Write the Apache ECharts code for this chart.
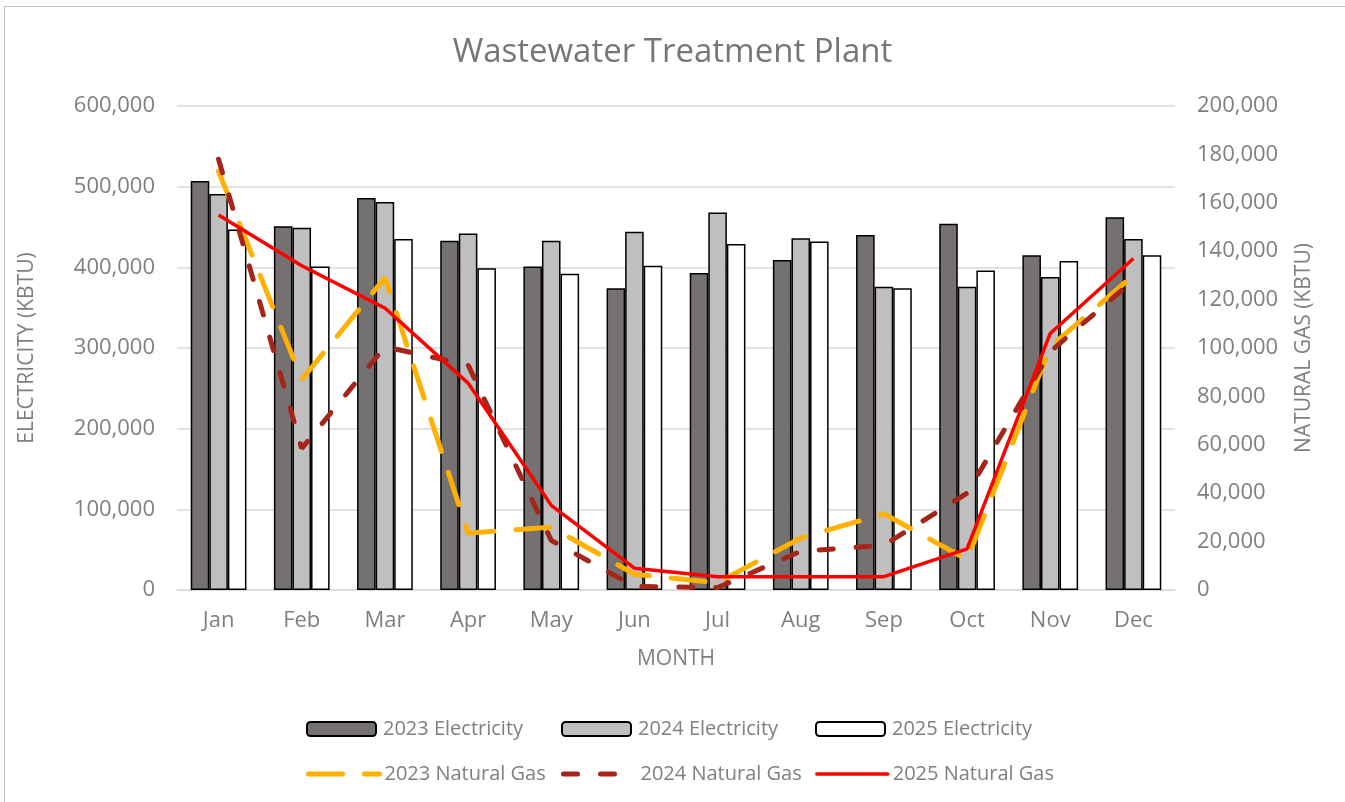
<!DOCTYPE html>
<html><head><meta charset="utf-8">
<script src="https://cdn.jsdelivr.net/npm/echarts@6/dist/echarts.min.js"></script>
<style>
html,body{margin:0;padding:0;background:#fff;}
#wrap{position:absolute;left:4px;top:6px;width:1345px;height:802px;border:1.5px solid #BFBFBF;box-sizing:border-box;}
#c{position:absolute;left:0;top:0;width:1345px;height:802px;}
</style></head>
<body>
<div id="wrap"></div>
<div id="c"></div>
<script>
const months = ['Jan','Feb','Mar','Apr','May','Jun','Jul','Aug','Sep','Oct','Nov','Dec'];
const elec2023 = [507000,451000,486000,433000,401000,374000,393000,409000,440000,454000,415000,462000];
const elec2024 = [491000,449000,481000,442000,433000,444000,468000,436000,376000,376000,388000,435000];
const elec2025 = [447000,401000,435000,399000,392000,402000,429000,432000,374000,396000,408000,415000];
const gas2023 = [173000,87000,129000,23500,26000,6500,3000,21500,31500,12500,100500,130000];
const gas2024 = [178000,58500,100500,93000,20500,1500,1000,16000,18500,40000,98500,128000];
const gas2025 = [155000,134000,116500,85500,35000,9000,5500,5500,5500,17000,106000,137000];
const leftTicks = [0,100000,200000,300000,400000,500000,600000];
const rightTicks = [0,20000,40000,60000,80000,100000,120000,140000,160000,180000,200000];

const FONT = 'Open Sans';
const gray = '#7F7F7F';
const fmt = v => v.toLocaleString('en-US');
const chart = echarts.init(document.getElementById('c'));
const barStyle = c => ({color:c, borderColor:'#000', borderWidth:1.5});
const legXs = [306, 561, 815];
const barNames = ['2023 Electricity','2024 Electricity','2025 Electricity'];
const gasNames = ['2023 Natural Gas','2024 Natural Gas','2025 Natural Gas'];
const gasColors = ['#FFB000','#A5251B','#FF0000'];
const gasDash = [[34,22],[14,23],'solid'];
const gasWidth = [5,5,3.5];
const legends = [];
barNames.forEach((n,i)=>legends.push({data:[n],left:legXs[i],top:719,padding:0,itemWidth:69,itemHeight:14,itemGap:0,
  textStyle:{fontFamily:FONT,fontSize:20,color:gray,padding:[0,0,0,2]}}));
gasNames.forEach((n,i)=>legends.push({data:[n],left:legXs[i],top:764,padding:0,itemWidth:71,itemHeight:14,itemGap:0,
  itemStyle:{opacity:0,color:'transparent',borderWidth:0},
  lineStyle:{color:gasColors[i],width:gasWidth[i],type:gasDash[i],cap:'round'},
  textStyle:{fontFamily:FONT,fontSize:20,color:gray,padding:[0,0,0,i===1?1:0]}}));
chart.setOption({
  animation:false,
  textStyle:{fontFamily:FONT},
  title:{text:'Wastewater Treatment Plant',left:'center',top:31,
    textStyle:{fontFamily:FONT,fontSize:33,fontWeight:'normal',color:'#767676'}},
  grid:{left:177,right:170,top:106,bottom:212,containLabel:false},
  legend:legends,
  xAxis:{type:'category',data:months,name:'MONTH',nameLocation:'middle',nameGap:59,
    nameTextStyle:{fontSize:21,color:gray},
    axisLine:{lineStyle:{color:'#D9D9D9',width:1.5}},axisTick:{show:false},
    axisLabel:{fontSize:22,color:gray,margin:20}},
  yAxis:[
    {type:'value',min:0,max:600000,interval:100000,name:'ELECTRICITY (KBTU)',nameLocation:'middle',nameGap:139,nameRotate:90,
     nameTextStyle:{fontSize:21,color:gray},
     axisLabel:{fontSize:22,color:gray,margin:22,formatter:fmt},
     splitLine:{lineStyle:{color:'#D9D9D9',width:1.5}},axisLine:{show:false},axisTick:{show:false}},
    {type:'value',min:0,max:200000,interval:20000,name:'NATURAL GAS (KBTU)',nameLocation:'middle',nameGap:119,nameRotate:90,
     nameTextStyle:{fontSize:21,color:gray},
     axisLabel:{fontSize:22,color:gray,margin:22,formatter:fmt},
     splitLine:{show:false},axisLine:{show:false},axisTick:{show:false}}
  ],
  series:[
    {name:'2023 Electricity',type:'bar',data:elec2023,itemStyle:barStyle('#767171'),barGap:'0%',barCategoryGap:'33%'},
    {name:'2024 Electricity',type:'bar',data:elec2024,itemStyle:barStyle('#BFBFBF'),barGap:'0%',barCategoryGap:'33%'},
    {name:'2025 Electricity',type:'bar',data:elec2025,itemStyle:barStyle('#FFFFFF'),barGap:'0%',barCategoryGap:'33%'},
    {name:gasNames[0],type:'line',yAxisIndex:1,data:gas2023,symbol:'none',itemStyle:{color:gasColors[0]},
     lineStyle:{color:gasColors[0],width:gasWidth[0],type:gasDash[0],cap:'round'}},
    {name:gasNames[1],type:'line',yAxisIndex:1,data:gas2024,symbol:'none',itemStyle:{color:gasColors[1]},
     lineStyle:{color:gasColors[1],width:gasWidth[1],type:gasDash[1],cap:'round'}},
    {name:gasNames[2],type:'line',yAxisIndex:1,data:gas2025,symbol:'none',itemStyle:{color:gasColors[2]},
     lineStyle:{color:gasColors[2],width:gasWidth[2]}}
  ]
});
</script>
</body></html>
